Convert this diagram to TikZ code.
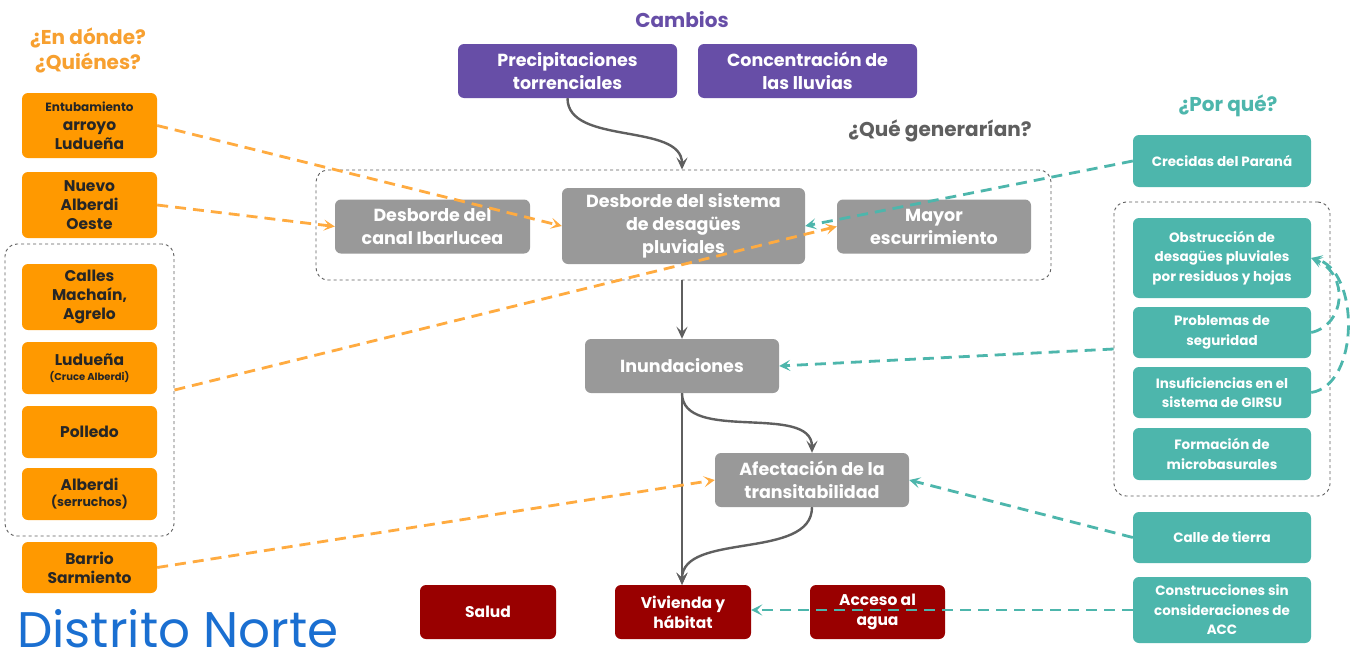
\documentclass[tikz,border=0pt]{standalone}
\usepackage{fontspec}
\setmainfont{Poppins}
\usetikzlibrary{arrows.meta}
\definecolor{orfill}{HTML}{FF9900}
\definecolor{orline}{HTML}{FFAB40}
\definecolor{ortext}{HTML}{F7A030}
\definecolor{purp}{HTML}{674EA7}
\definecolor{grayb}{HTML}{999999}
\definecolor{teal}{HTML}{4DB6AC}
\definecolor{dred}{HTML}{990000}
\definecolor{darkg}{HTML}{5F5F5F}
\definecolor{blu}{HTML}{1A6FD1}
\begin{document}
\begin{tikzpicture}[x=1pt,y=-1pt,
  box/.style={rectangle,rounded corners=6pt,align=center,inner sep=2pt},
  obox/.style={box,fill=orfill,text=black!85,minimum width=135,font=\bfseries\fontsize{15.5}{19}\selectfont},
  pbox/.style={box,fill=purp,text=white,minimum width=219,minimum height=54,font=\bfseries\fontsize{17.5}{23}\selectfont},
  gbox/.style={box,fill=grayb,text=white,minimum width=194,minimum height=54,font=\bfseries\fontsize{17.5}{23}\selectfont},
  tbox/.style={box,fill=teal,text=white,minimum width=178,font=\bfseries\fontsize{13.5}{19.5}\selectfont},
  rbox/.style={box,fill=dred,text=white,minimum width=136,minimum height=54,font=\bfseries\fontsize{15.5}{20}\selectfont},
  grp/.style={rectangle,rounded corners=12pt,draw=darkg,dashed,line width=0.9pt,inner sep=0pt},
  oarr/.style={draw=orline,line width=2.8pt,dash pattern=on 11pt off 7pt,-{Stealth[length=11pt,width=11pt,inset=5pt]}},
  tarr/.style={draw=teal,line width=2.8pt,dash pattern=on 11pt off 7pt,-{Stealth[length=11pt,width=11pt,inset=5pt]}},
  garr/.style={draw=darkg,line width=2.4pt,-{Stealth[length=12pt,width=11pt,inset=5pt]}},
  head/.style={font=\bfseries\fontsize{20}{25}\selectfont,align=center}
]
\useasboundingbox (0,0) rectangle (1354,656);
\fill[white] (0,0) rectangle (1354,656);

% headings
\node[head,text=ortext] (hq) at (88,50) {¿En dónde?\\¿Quiénes?};
\node[head,text=purp] (hc) at (682,20) {Cambios};
\node[head,text=darkg] (hg) at (940,131) {¿Qué generarían?};
\node[head,text=teal] (hp) at (1228,106) {¿Por qué?};
\node[text=blu,anchor=base west,inner sep=0pt,font=\fontsize{50}{54}\selectfont] (dn) at (17,647) {Distrito Norte};

% groups
\node[grp,minimum width=169,minimum height=292] (gl) at (89.5,390) {};
\node[grp,minimum width=735,minimum height=110] (gm) at (683.5,225) {};
\node[grp,minimum width=216,minimum height=294] (gr) at (1222,349) {};

% left boxes
\node[obox,minimum height=65] (o1) at (89.5,125.5) {{\fontsize{12}{15}\selectfont Entubamiento}\\arroyo\\Ludueña};
\node[obox,minimum height=66] (o2) at (89.5,205) {Nuevo\\Alberdi\\Oeste};
\node[obox,minimum height=66] (o3) at (89.5,297) {Calles\\Machaín,\\Agrelo};
\node[obox,minimum height=52] (o4) at (89.5,368) {Ludueña\\[-4pt]{\fontsize{10}{12}\selectfont (Cruce Alberdi)}};
\node[obox,minimum height=52] (o5) at (89.5,432) {Polledo};
\node[obox,minimum height=52] (o6) at (89.5,494) {Alberdi\\[-3pt]{\fontsize{12.5}{14}\selectfont (serruchos)}};
\node[obox,minimum height=51] (o7) at (89.5,567.5) {Barrio\\Sarmiento};

% top purple
\node[pbox] (p1) at (567.5,71) {Precipitaciones\\torrenciales};
\node[pbox] (p2) at (807.5,71) {Concentración de\\las lluvias};

% gray
\node[gbox,minimum width=195] (c1) at (432.5,226.5) {Desborde del\\canal Ibarlucea};
\node[gbox,minimum width=243,minimum height=76] (c2) at (683.5,226) {Desborde del sistema\\de desagües\\pluviales};
\node[gbox] (c3) at (934,226.5) {Mayor\\escurrimiento};
\node[gbox] (c4) at (682,366) {Inundaciones};
\node[gbox] (c5) at (812,480) {Afectación de la\\transitabilidad};

% red
\node[rbox] (r1) at (488,612) {Salud};
\node[rbox] (r2) at (683,612) {Vivienda y\\hábitat};
\node[rbox,minimum width=135] (r3) at (877.5,612) {Acceso al\\agua};

% teal
\node[tbox,minimum height=52] (t1) at (1222,161) {Crecidas del Paraná};
\node[tbox,minimum height=80] (t2) at (1222,258) {Obstrucción de\\desagües pluviales\\por residuos y hojas};
\node[tbox,minimum height=51] (t3) at (1222,332.5) {Problemas de\\seguridad};
\node[tbox,minimum height=51] (t4) at (1222,392.5) {Insuficiencias en el\\sistema de GIRSU};
\node[tbox,minimum height=52] (t5) at (1222,454) {Formación de\\microbasurales};
\node[tbox,minimum height=51] (t6) at (1222,537.5) {Calle de tierra};
\node[tbox,minimum height=66] (t7) at (1222,610) {Construcciones sin\\consideraciones de\\ACC};

% gray arrows
\draw[garr] (p1.south) to[out=-90,in=90,looseness=0.9] (c4.north |- gm.north);
\draw[garr] (c4.north |- gm.south) -- (c4.north);
\draw[garr] (c4.south) to[out=-90,in=90,looseness=0.9] (c5.north);
\draw[garr] (c4.south) -- (r2.north -| c4.south);
\draw[garr] (c5.south) to[out=-90,in=90,looseness=0.9] (r2.north -| c4.south);

% orange dashed
\draw[oarr] (o1.east) -- (c2.west);
\draw[oarr] (o2.east) -- (c1.west);
\draw[oarr] (gl.east) -- (c3.west);
\draw[oarr] (o7.east) -- (c5.west);

% teal dashed
\draw[tarr] (t1.west) -- (c2.east);
\draw[tarr] (gr.west) -- (c4.east);
\draw[tarr] (t6.west) -- (c5.east);
\draw[tarr] (t7.west) -- (r2.east |- t7.west);
\draw[tarr] (t3.east) .. controls (1345,325) and (1350,275) .. (t2.east);
\draw[tarr] (t4.east) .. controls (1360,385) and (1360,270) .. (t2.east);
\end{tikzpicture}
\end{document}
